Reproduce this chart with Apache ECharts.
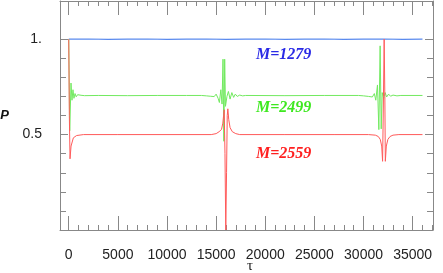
<!DOCTYPE html>
<html><head><meta charset="utf-8">
<script src="https://cdn.jsdelivr.net/npm/echarts@6/dist/echarts.min.js"></script>
<style>html,body{margin:0;padding:0;background:#fff}#c{width:443px;height:273px}</style>
</head><body><div id="c"></div>
<script>
// Tick positions / labels
var xMajorTicks = [0, 5000, 10000, 15000, 20000, 25000, 30000, 35000];
var xMinorTicks = [1000,2000,3000,4000,6000,7000,8000,9000,11000,12000,13000,14000,16000,17000,18000,19000,21000,22000,23000,24000,26000,27000,28000,29000,31000,32000,33000,34000,36000,37000];
var yMajorTicks = [0.5, 1];
var yMinorTicks = [0.1, 0.2, 0.3, 0.4, 0.6, 0.7, 0.8, 0.9];
var seriesNames = ['M=1279', 'M=2499', 'M=2559'];

// M=1279 (blue)
var blueData = [[0,1.0],[2000,1.001],[4000,0.999],[6000,1.0],[8000,1.001],[10000,0.999],[12000,1.0],[14000,1.001],[16000,0.999],[18000,1.0],[20000,1.001],[22000,0.999],[24000,1.0],[26000,1.001],[28000,0.999],[30000,1.0],[32000,1.001],[34000,0.999],[36000,1.0]];

// M=2499 (green)
var greenData = [[0,1.0],[100,0.52],[230,0.77],[330,0.68],[430,0.735],[530,0.69],[640,0.715],[760,0.698],[900,0.709],[1050,0.702],[1250,0.706],[1600,0.704],[3000,0.705],[6000,0.704],[9000,0.705],[12000,0.705],
 [13500,0.705],[14000,0.703],[14200,0.708],[14400,0.701],[14600,0.709],[14800,0.699],[15000,0.712],[15200,0.69],[15330,0.668],[15480,0.735],[15600,0.66],[15700,0.895],[15785,0.465],[15870,0.895],[15950,0.648],[16100,0.7],[16250,0.726],[16420,0.686],[16600,0.72],[16780,0.695],[16950,0.712],[17150,0.7],[17400,0.707],[17700,0.703],[18000,0.705],[22000,0.704],[26000,0.705],
 [29500,0.705],[30000,0.703],[30200,0.708],[30500,0.7],[30700,0.71],[30900,0.697],[31100,0.715],[31250,0.68],[31420,0.76],[31560,0.526],[31690,0.965],[31800,0.53],[31900,0.72],[32050,0.69],[32200,0.72],[32350,0.697],[32550,0.712],[32750,0.701],[33000,0.707],[33400,0.703],[33800,0.705],[36000,0.705]];

// M=2559 (red)
var redData = [[0,1.0],[60,0.6],[130,0.373],[235,0.44],[470,0.483],[800,0.495],[1500,0.5],[5000,0.5],[10000,0.5],
 [14500,0.5],[15000,0.505],[15300,0.515],[15550,0.527],[15680,0.56],[15760,0.6],[15820,0.63],[15900,0.4],[15980,0.0],[16060,0.3],[16130,0.6],[16190,0.635],[16280,0.58],[16420,0.536],[16650,0.515],[17000,0.505],[17400,0.5],[22000,0.5],[27000,0.5],
 [30500,0.5],[31200,0.497],[31500,0.49],[31700,0.475],[31850,0.44],[31940,0.36],[32030,0.7],[32100,1.0],[32170,0.7],[32220,0.36],[32320,0.44],[32480,0.475],[32700,0.49],[33000,0.497],[33600,0.5],[36000,0.5]];

function xAx(pos, ticks, len, labels, showLine){
  return {type:'value', position:pos, min:-890, max:37070,
    axisLine:{show:showLine, onZero:false, lineStyle:{color:'#888',width:1}},
    axisTick:{show:true, inside:true, length:len, customValues:ticks, lineStyle:{color:'#888',width:1}},
    axisLabel:labels ? {show:true, customValues:xMajorTicks, color:'#222', fontSize:14, fontFamily:'Liberation Sans', margin:18,
      formatter:function(v){return String(v);}} : {show:false},
    splitLine:{show:false}};
}
function yAx(pos, ticks, len, labels, showLine){
  return {type:'value', position:pos, min:0, max:1.2,
    axisLine:{show:showLine, onZero:false, lineStyle:{color:'#888',width:1}},
    axisTick:{show:true, inside:true, length:len, customValues:ticks, lineStyle:{color:'#888',width:1}},
    axisLabel:labels ? {show:true, customValues:yMajorTicks, color:'#222', fontSize:14, fontFamily:'Liberation Sans', margin:18,
      formatter:function(v){return v===1?'1.':String(v);}} : {show:false},
    splitLine:{show:false}};
}
var xa0 = xAx('bottom', xMajorTicks, 14, true, true);
xa0.name = 'τ'; xa0.nameLocation='middle'; xa0.nameGap=29; xa0.nameMoveOverlap=false;
xa0.nameTextStyle = {fontFamily:'Liberation Serif', fontSize:15, color:'#222', padding:[0,0,0,7]};
var ya0 = yAx('left', yMajorTicks, 8, true, true);
ya0.name = 'P'; ya0.nameLocation='middle'; ya0.nameGap=51; ya0.nameRotate=0; ya0.nameMoveOverlap=false;
ya0.nameTextStyle = {fontFamily:'Liberation Sans', fontSize:13, fontWeight:'bold', fontStyle:'italic', color:'#111'};

var chart = echarts.init(document.getElementById('c'), null, {renderer:'canvas'});
chart.setOption({
  animation:false,
  backgroundColor:'#fff',
  grid:{left:60, right:10, top:1, bottom:43, containLabel:false, outerBoundsMode:'none'},
  xAxis:[xa0, xAx('bottom', xMinorTicks, 5, false, false), xAx('top', xMajorTicks, 14, false, true), xAx('top', xMinorTicks, 5, false, false)],
  yAxis:[ya0, yAx('left', yMinorTicks, 6, false, false), yAx('right', yMajorTicks, 8, false, true), yAx('right', yMinorTicks, 6, false, false)],
  series:[
    {name:seriesNames[0], type:'line', data:blueData, showSymbol:false, lineStyle:{color:'#5a8aee', width:1.2}, xAxisIndex:0, yAxisIndex:0},
    {name:seriesNames[1], type:'line', data:greenData, showSymbol:false, lineStyle:{color:'#72ea60', width:1}, xAxisIndex:0, yAxisIndex:0},
    {name:seriesNames[2], type:'line', data:redData, showSymbol:false, lineStyle:{color:'#ff5a5a', width:1}, xAxisIndex:0, yAxisIndex:0}
  ],
  graphic:[
    {type:'text', left:256, top:47, style:{text:seriesNames[0], fill:'#2a2ae6', font:'italic bold 16px "Liberation Serif"'}},
    {type:'text', left:256, top:100, style:{text:seriesNames[1], fill:'#3ee820', font:'italic bold 16px "Liberation Serif"'}},
    {type:'text', left:256, top:146, style:{text:seriesNames[2], fill:'#ff2020', font:'italic bold 16px "Liberation Serif"'}}
  ]
});
</script></body></html>
